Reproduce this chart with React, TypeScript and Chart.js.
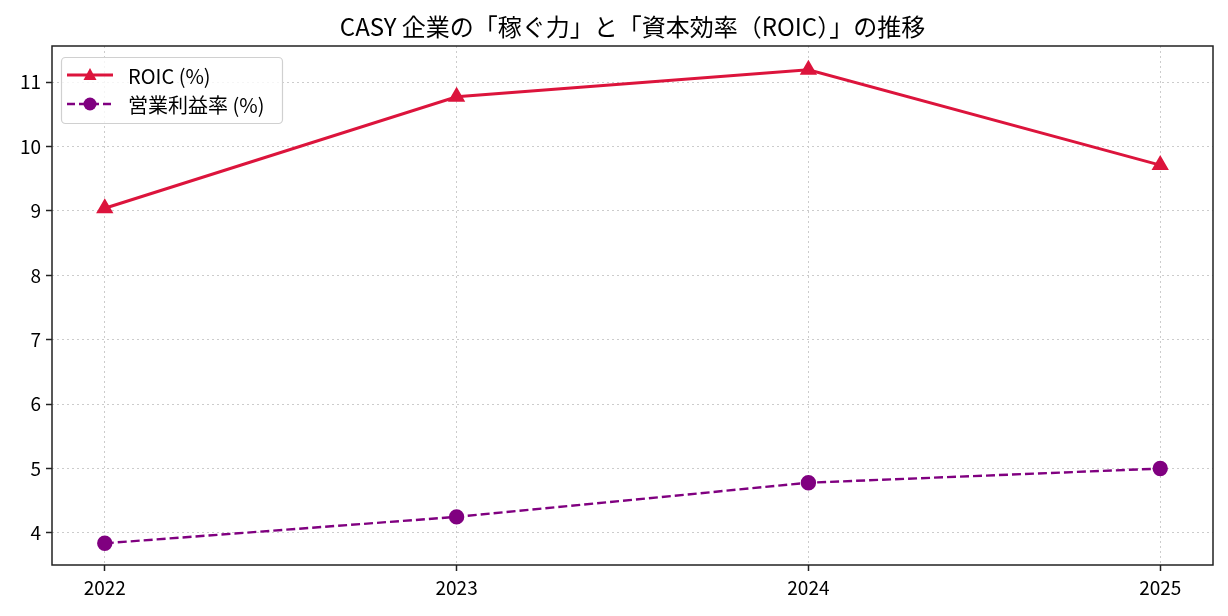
import React, { useEffect, useRef } from "react";
import { Chart, registerables } from "chart.js";

Chart.register(...registerables);

const years = [2022, 2023, 2024, 2025];
const roic = [9.04, 10.77, 11.19, 9.71];
const opMargin = [3.84, 4.25, 4.78, 5.0];
const yTicks = [4, 5, 6, 7, 8, 9, 10, 11];
const titleText = "CASY 企業の「稼ぐ力」と「資本効率（ROIC）」の推移";
const roicLabel = "ROIC (%)";
const opLabel = "営業利益率 (%)";

const FONT = '"Noto Sans CJK JP", sans-serif';
const RED = "#DC143C";
const PURPLE = "#800080";

const framePlugin = {
  id: "frame",
  afterDatasetsDraw(chart: any) {
    const { ctx, chartArea: a } = chart;
    ctx.save();
    ctx.strokeStyle = "#222";
    ctx.lineWidth = 1.5;
    ctx.setLineDash([]);
    ctx.strokeRect(a.left, a.top, a.right - a.left, a.bottom - a.top);
    ctx.restore();
  },
};

const legendPlugin = {
  id: "customLegend",
  afterDraw(chart: any) {
    const { ctx } = chart;
    const x0 = 61, y0 = 57, w = 221, h = 66;
    ctx.save();
    ctx.fillStyle = "rgba(255,255,255,0.8)";
    ctx.strokeStyle = "#d0d0d0";
    ctx.lineWidth = 1.2;
    ctx.beginPath();
    (ctx as any).roundRect(x0 + 0.5, y0 + 0.5, w, h, 4);
    ctx.fill();
    ctx.stroke();

    const rows = [
      { y: 75, color: RED, dash: [] as number[], lw: 3, marker: "tri", label: roicLabel },
      { y: 104, color: PURPLE, dash: [8, 4], lw: 2.4, marker: "circle", label: opLabel },
    ];
    rows.forEach((r) => {
      ctx.strokeStyle = r.color;
      ctx.lineWidth = r.lw;
      ctx.setLineDash(r.dash);
      ctx.beginPath();
      ctx.moveTo(67, r.y);
      ctx.lineTo(113, r.y);
      ctx.stroke();
      ctx.setLineDash([]);
      ctx.fillStyle = r.color;
      ctx.beginPath();
      if (r.marker === "tri") {
        ctx.moveTo(90, r.y - 7);
        ctx.lineTo(96.5, r.y + 5);
        ctx.lineTo(83.5, r.y + 5);
        ctx.closePath();
      } else {
        ctx.arc(90, r.y, 6.5, 0, Math.PI * 2);
      }
      ctx.fill();
      ctx.fillStyle = "#000";
      ctx.font = `20px ${FONT}`;
      ctx.textBaseline = "middle";
      ctx.textAlign = "left";
      ctx.fillText(r.label, 128, r.y + 1);
    });
    ctx.restore();
  },
};

export default function App() {
  const ref = useRef<HTMLCanvasElement>(null);
  useEffect(() => {
    if (!ref.current) return;
    const chart = new Chart(ref.current, {
      type: "line",
      data: {
        datasets: [
          {
            label: roicLabel,
            data: years.map((y, i) => ({ x: y, y: roic[i] })),
            borderColor: RED,
            backgroundColor: RED,
            borderWidth: 3,
            pointStyle: "triangle",
            pointRadius: 7,
            pointHoverRadius: 7,
            tension: 0,
          },
          {
            label: opLabel,
            data: years.map((y, i) => ({ x: y, y: opMargin[i] })),
            borderColor: PURPLE,
            backgroundColor: PURPLE,
            borderWidth: 2.4,
            borderDash: [9, 4],
            pointStyle: "circle",
            pointRadius: 6.5,
            pointHoverRadius: 6.5,
            tension: 0,
          },
        ],
      },
      options: {
        animation: false,
        responsive: false,
        maintainAspectRatio: false,
        layout: { padding: { left: 0, right: 15, top: 2, bottom: 0 } },
        plugins: {
          legend: { display: false },
          tooltip: { enabled: false },
          title: {
            display: true,
            text: titleText,
            fullSize: false,
            color: "#000",
            font: { family: FONT, size: 24, weight: "normal", lineHeight: 1.2 },
            padding: { top: 10, bottom: 5.2 },
          },
        },
        scales: {
          x: {
            type: "linear",
            min: 2021.85,
            max: 2025.15,
            afterBuildTicks: (s: any) => {
              s.ticks = years.map((v) => ({ value: v }));
            },
            afterFit: (s: any) => {
              s.height = 51;
            },
            grid: {
              color: "#cccccc",
              lineWidth: 1,
              tickColor: "#222",
              tickLength: 6,
              tickWidth: 1.5,
              tickBorderDash: [],
            },
            border: { display: false, dash: [2, 3] },
            ticks: {
              color: "#000",
              font: { family: FONT, size: 19 },
              padding: 5,
              maxRotation: 0,
              callback: (v: any) => String(v),
            },
          },
          y: {
            type: "linear",
            min: 3.503,
            max: 11.559,
            afterBuildTicks: (s: any) => {
              s.ticks = yTicks.map((v) => ({ value: v }));
            },
            afterFit: (s: any) => {
              s.width = 52;
            },
            grid: {
              color: "#cccccc",
              lineWidth: 1,
              tickColor: "#222",
              tickLength: 6,
              tickWidth: 1.5,
              tickBorderDash: [],
            },
            border: { display: false, dash: [2, 3] },
            ticks: {
              color: "#000",
              font: { family: FONT, size: 19 },
              padding: 5,
              callback: (v: any) => String(v),
            },
          },
        },
      },
      plugins: [framePlugin, legendPlugin],
    });
    return () => chart.destroy();
  }, []);
  return (
    <div style={{ position: "fixed", left: 0, top: 0, width: 1228, height: 616, background: "#fff" }}>
      <canvas ref={ref} width={1228} height={616} />
    </div>
  );
}
